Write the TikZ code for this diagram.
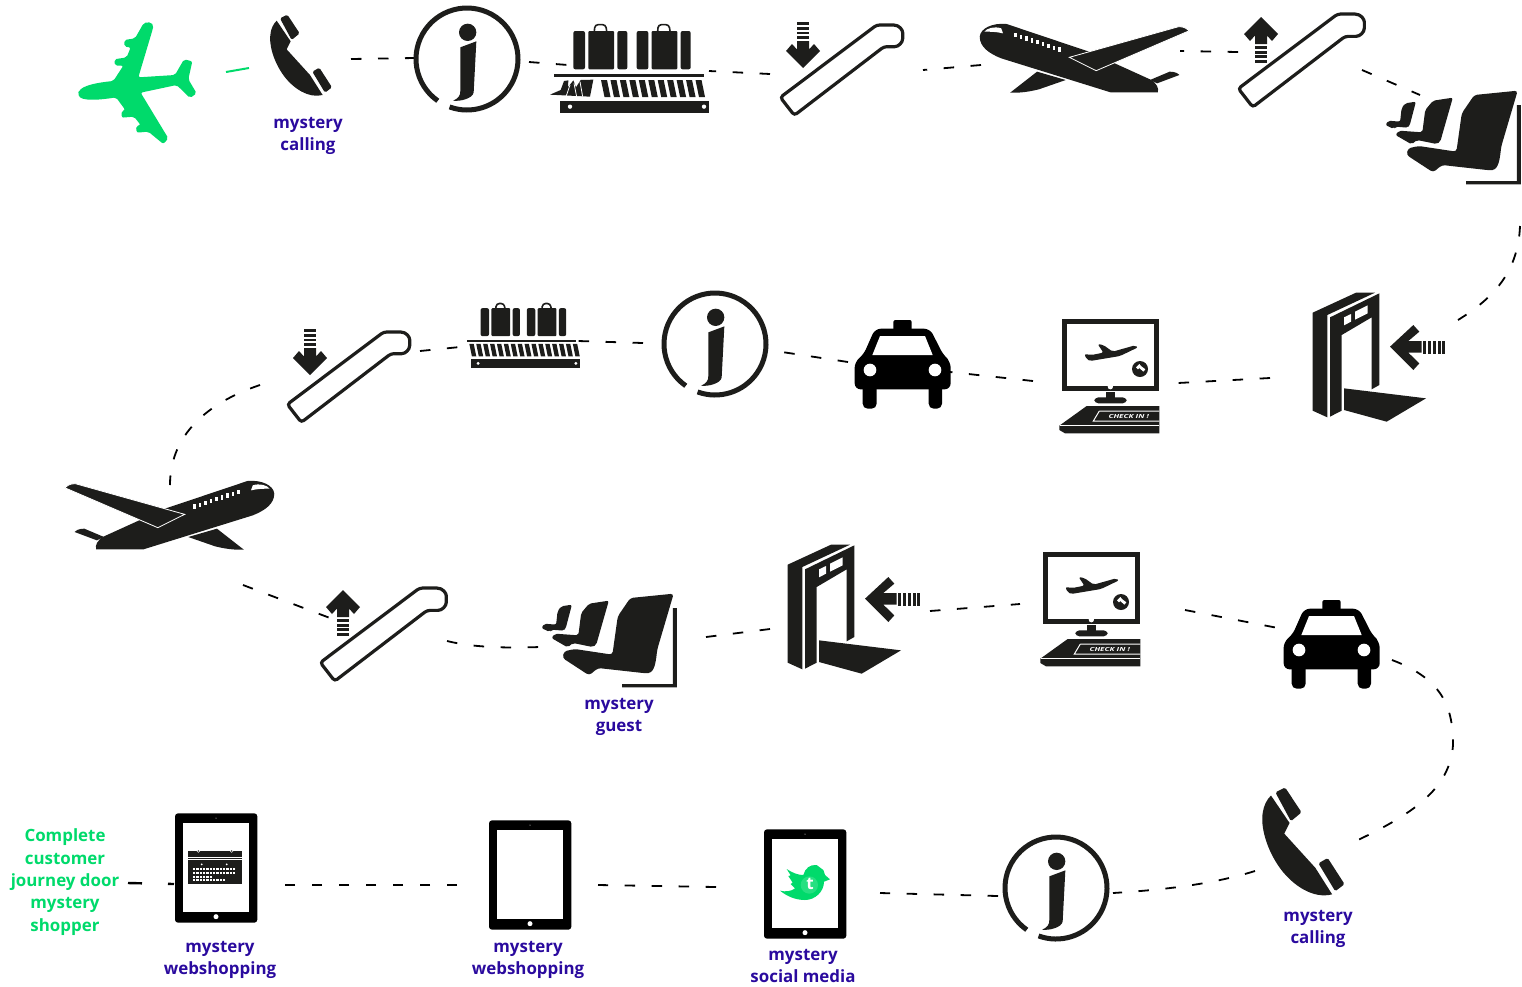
\documentclass[tikz,border=0pt]{standalone}
\usepackage{fontspec}
\usepackage{graphicx}
\setmainfont{Open Sans}
\definecolor{inkc}{HTML}{1D1D1B}
\definecolor{gr}{HTML}{00DA6B}
\definecolor{ind}{HTML}{2A0A9E}
\tikzset{
  ink/.style={fill=inkc,draw=none},
  wht/.style={fill=white,draw=none},
  dashline/.style={draw=black,line width=1.8pt,dash pattern=on 10.5pt off 16.5pt},
  lab/.style={font=\fontsize{16.9}{22.4}\selectfont\bfseries,text=ind,align=center,inner sep=0pt},
  glab/.style={lab,text=gr},
}
\newcommand\Place[4]{\begin{scope}[shift={(#1,#2)},scale=#3]#4\end{scope}}
% info icon, centred on the origin, in px
\newcommand\IcoInfo{%
  \draw[inkc,line width=5pt] (125:51) arc[start angle=125,end angle=470,radius=51];
  \begin{scope}[scale=1/3]
  \fill[ink] (2,-80) circle[radius=26];
  \fill[ink] (-20,-35) -- (28,-53) -- (20,100) .. controls (18,118) and (-20,128) .. (-42,125) .. controls (-25,118) and (-20,110) .. (-20,95) -- cycle;
  \end{scope}}
% phone
\newcommand\IcoPhone{\begin{scope}[shift={(60,0)},scale=1/3]
  \fill[ink,rounded corners=1.5pt] (660,55)--(682,44)--(719,100)--(695,120)--cycle;
  \fill[ink,rounded corners=1.5pt] (757,215)--(778,203)--(816,262)--(795,278)--cycle;
  \fill[ink] (650,62)--(692,124)--(680,148)--(750,225)--(788,285) .. controls (745,296) and (700,265) .. (672,228) .. controls (640,185) and (625,130) .. (632,98) .. controls (634,85) and (640,72) .. (650,62)--cycle;
\end{scope}}
% escalator tube
\newcommand\IcoEsc{\begin{scope}[shift={(540,0)},scale=1/3]
  \draw[inkc,line width=3.2pt,rounded corners=3pt,fill=white] (721,292)--(1010,75)--(1052,75) .. controls (1078,75) and (1088,90) .. (1088,107) .. controls (1088,128) and (1075,140) .. (1055,140)--(1032,140)--(763,346)--cycle;
\end{scope}}
\newcommand\IcoUp{%
  \fill[ink] (0,0)--(-17,17)--(-11,24)--(-6,18.5)--(-6,27)--(6,27)--(6,18.5)--(11,24)--(17,17)--cycle;
  \foreach \yy in {29,33.7,38.4,43}{\fill[ink] (-6,\yy) rectangle (6,\yy+2.8);}}
% side plane
\newcommand\IcoPlane{\begin{scope}[shift={(960,0)},xscale=0.3584,yscale=1/3]
  \fill[ink] (215,215)--(295,240)--(220,268) .. controls (190,276) and (165,279) .. (140,278)--cycle;
  \fill[ink] (530,240)--(585,215) .. controls (600,215) and (608,220) .. (612,225)--(550,250)--cycle;
  \fill[ink] (55,110) .. controls (57,85) and (90,68) .. (130,72)--(360,155)--(530,238) .. controls (550,250) and (555,265) .. (552,277)--(420,277)--(115,175) .. controls (80,160) and (55,140) .. (55,110)--cycle;
  \draw[white,line width=0.8pt,fill=inkc] (305,172)--(610,80) .. controls (625,80) and (632,85) .. (640,92)--(380,212)--cycle;
  \fill[wht] (68,95) .. controls (75,85) and (95,78) .. (115,85)--(120,100) .. controls (100,95) and (85,95) .. (68,95)--cycle;
  \foreach \i in {0,...,8}{\fill[wht] ({152+\i*15.2},{98+\i*5.5}) rectangle ++(7,13);}
\end{scope}}
% baggage
\newcommand\IcoCase[1]{%
  \fill[ink,rounded corners=2pt] (#1,93) rectangle ++(35,115);
  \fill[ink,rounded corners=1pt] (#1+45,93) rectangle ++(77,115);
  \fill[ink,rounded corners=2pt] (#1+132,93) rectangle ++(30,115);
  \draw[inkc,line width=1.6pt,rounded corners=3pt] (#1+63,93)--(#1+65,74)--(#1+97,74)--(#1+100,93);}
\newcommand\IcoBag{\begin{scope}[shift={(540,0)},scale=1/3]
  \IcoCase{100}\IcoCase{290}
  \fill[ink] (43,222) rectangle (492,231);
  \fill[ink] (60,303) rectangle (508,340);
  \fill[wht] (90,320) circle[radius=6.5]; \fill[wht] (492,320) circle[radius=6.5];
\end{scope}}
\newcommand\IcoSlat[2]{\foreach \i in {1,...,#2}{\fill[ink] ({#1+(\i-1)*9.45},80)--++(6,0)--++(3.5,17)--++(-6,0)--cycle;}}
% seats
\newcommand\IcoSeats{\begin{scope}[shift={(960,0)},xscale=0.3584,yscale=1/3]
  \fill[ink,rounded corners=3pt] (1435,285)--(1556,272)--(1510,440) .. controls (1505,490) and (1500,512) .. (1470,510)--(1345,495)--(1320,517)--(1246,465)--(1250,445)--(1280,438)--(1385,455)--(1400,340)--cycle;
  \fill[ink,rounded corners=2pt] (1320,302)--(1375,293)--(1340,425)--(1330,432)--(1275,420)--(1260,433)--(1215,405)--(1225,392)--(1290,397)--(1298,330)--cycle;
  \fill[ink,rounded corners=2pt] (1242,310)--(1272,305)--(1255,375)--(1250,383)--(1215,380)--(1210,387)--(1187,375)--(1195,362)--(1228,365)--(1232,325)--cycle;
  \fill[ink] (1554,315)--(1565,315)--(1565,553)--(1412,553)--(1412,543)--(1554,543)--cycle;
\end{scope}}
% door
\newcommand\IcoDoor{\begin{scope}[shift={(1040,280)},scale=1/3]
  \fill[ink] (818,98)--(948,38)--(1005,38)--(862,105)--(862,412)--(818,392)--cycle;
  \fill[ink] (870,112)--(1018,40)--(1018,315)--(995,328)--(995,112)--(905,165)--(905,392)--(870,410)--cycle;
  \fill[wht] (912,112)--(933,102)--(933,125)--(912,136)--cycle;
  \fill[wht] (945,95)--(983,76)--(983,100)--(945,119)--cycle;
  \fill[ink] (912,325)--(1158,355)--(1040,425)--(912,390)--cycle;
  \fill[ink] (1050,200)--(1120,135)--(1138,155)--(1105,183)--(1145,183)--(1145,218)--(1105,218)--(1138,250)--(1120,270)--cycle;
  \foreach \xx in {1150,1165,1180,1195,1207}{\fill[ink] (\xx,182) rectangle ++(9,40);}
\end{scope}}
% check-in screen
\newcommand\IcoScreen[1]{\begin{scope}[shift={(1040,280)},scale=1/3]
  \fill[ink] (65,118) rectangle (358,333);
  \fill[wht] (82,132) rectangle (343,318);
  \fill[wht] (211,320) circle[radius=8];
  \fill[ink] (197,335) rectangle (225,354);
  \fill[ink,rounded corners=4pt] (163,352) rectangle (260,370);
  \fill[ink,rounded corners=2pt] (133,222)--(155,225)--(190,218)--(173,192)--(190,195)--(218,215)--(285,196)--(294,202)--(240,228)--(150,243)--(140,238)--cycle;
  \fill[ink] (300,267) circle[radius=24];
  \fill[wht] (288,262)--(298,252)--(303,258)--(316,268)--(310,275)--(298,264)--(294,268)--cycle;
  \fill[ink] (140,378)--(358,378)--(358,460)--(75,460)--(58,450)--(58,437)--cycle;
  \draw[white,line width=1pt] (178,393)--(358,393) (358,423)--(160,423)--(178,393);
  \draw[white,line width=0.8pt] (60,437)--(358,437);
  \node[name=#1,inner sep=0pt,text=white,font=\fontsize{5.6}{6}\selectfont\bfseries\itshape] at (266,408) {\scalebox{1.45}[1]{CHECK IN !}};
\end{scope}}
% taxi
\newcommand\IcoTaxi{\begin{scope}[shift={(840,310)},scale=1/3]
  \fill[black,rounded corners=2pt] (160,30) rectangle (215,62);
  \fill[black,rounded corners=5pt] (68,220) rectangle (110,296);
  \fill[black,rounded corners=5pt] (266,220) rectangle (306,296);
  \fill[black,rounded corners=6pt] (105,56)--(270,56)--(310,135)--(332,155)--(332,238)--(44,238)--(44,155)--(70,135)--cycle;
  \fill[wht] (120,78)--(255,78)--(278,135)--(97,135)--cycle;
  \fill[wht] (90,180) circle[radius=19]; \fill[wht] (285,180) circle[radius=19];
\end{scope}}
% tablet
\newcommand\IcoTablet{\begin{scope}[shift={(160,800)},scale=1/3]
  \fill[black,rounded corners=3pt] (45,40) rectangle (292,368);
  \fill[wht] (70,68) rectangle (267,337);
  \fill[wht] (168,54) circle[radius=1.5];
  \fill[wht] (168,350) circle[radius=7.5];
\end{scope}}
\begin{document}
\begin{tikzpicture}[x=1pt,y=-1pt]
\useasboundingbox (0,0) rectangle (1522,986);
% connector ends
\coordinate (g1) at (226,72); \coordinate (g2) at (249,68);
\coordinate (a1) at (351,59); \coordinate (a2) at (415,58);
\coordinate (b1) at (529,62); \coordinate (b2) at (568,65);
\coordinate (c1) at (709,71); \coordinate (c2) at (770,74);
\coordinate (d1) at (923,70); \coordinate (d2) at (981,65);
\coordinate (e1) at (1180,51); \coordinate (e2) at (1238,52);
\coordinate (f1) at (1362,70); \coordinate (f2) at (1420,95);
\coordinate (h1) at (1520,226); \coordinate (h2) at (1458,320);
\coordinate (i1) at (1270,378); \coordinate (i2) at (1178,383);
\coordinate (j1) at (1033,381); \coordinate (j2) at (950,372);
\coordinate (k1) at (848,362); \coordinate (k2) at (782,352);
\coordinate (l1) at (643,343); \coordinate (l2) at (578,341);
\coordinate (m1) at (470,346); \coordinate (m2) at (420,351);
\coordinate (n1) at (260,385); \coordinate (n2) at (170,485);
\coordinate (o1) at (243,585); \coordinate (o2) at (330,618);
\coordinate (p1) at (447,641); \coordinate (p2) at (540,647);
\coordinate (q1) at (706,637); \coordinate (q2) at (770,629);
\coordinate (r1) at (930,611); \coordinate (r2) at (1020,604);
\coordinate (s1) at (1185,610); \coordinate (s2) at (1278,628);
\coordinate (t1) at (1392,660); \coordinate (t2) at (1358,840);
\coordinate (u1) at (1255,871); \coordinate (u2) at (1113,893);
\coordinate (v1) at (998,896); \coordinate (v2) at (880,893);
\coordinate (w1) at (716,887); \coordinate (w2) at (598,885);
\coordinate (y1) at (457,885); \coordinate (y2) at (285,885);
\coordinate (z1) at (128,883); \coordinate (z2) at (174,884);
\draw[gr,line width=2pt] (g1)--(g2);
\foreach \aa/\bb in {a1/a2,b1/b2,c2/c1,d2/d1,e2/e1,f1/f2,i1/i2,j1/j2,k1/k2,l1/l2,m2/m1,o1/o2,q1/q2,r1/r2,s1/s2,v1/v2,w1/w2,y1/y2}
  {\draw[dashline] (\aa)--(\bb);}
\draw[dashline] (h1) .. controls (1518,275) and (1490,300) .. (h2);
\draw[dashline] (n1) .. controls (215,400) and (170,430) .. (n2);
\draw[dashline] (p1) .. controls (475,648) and (510,648) .. (p2);
\draw[dashline] (t1) .. controls (1445,680) and (1453,710) .. (1453,745) .. controls (1450,790) and (1410,815) .. (t2);
\draw[dashline] (u1) .. controls (1210,885) and (1160,890) .. (u2);
\draw[black,line width=2.4pt,dash pattern=on 14pt off 26pt] (z1)--(z2);

% green plane
\begin{scope}[shift={(60,0)},scale=1/3]
\fill[gr,rounded corners=2pt] (55,280) .. controls (65,255) and (120,247) .. (160,243) -- (190,197) -- (165,197)--(163,178)--(200,172)--(212,142)--(193,140)--(193,120)--(225,115)--(245,80) .. controls (255,62) and (283,65) .. (278,88) -- (235,232) -- (345,225)--(372,178)--(397,184)--(385,238)--(410,280)--(390,294)--(350,255)--(242,278)--(325,415)--(310,432)--(265,395)--(230,398)--(228,378)--(242,375)--(222,350)--(185,353)--(185,332)--(196,330)--(168,292) .. controls (120,300) and (60,305) .. (55,280)--cycle;
\end{scope}

% row 1
\IcoPhone
\node[lab] (lab1) at (308,136) {mystery\\calling};
\Place{467}{59}{1}{\IcoInfo}
\IcoBag
\begin{scope}[shift={(540,0)},scale=1/3]
  \fill[ink] (30,284)--(62,270)--(72,243)--(85,241)--(84,262)--(100,241)--(108,262)--(122,240)--(160,239)--(150,290)--cycle;
  \draw[white,line width=0.8pt] (110,290)--(102,250) (128,290)--(120,245) (78,290)--(90,255);
\end{scope}
\IcoSlat{601}{11}
\IcoEsc
\Place{803}{68}{1}{\begin{scope}[yscale=-1]\IcoUp\end{scope}}
\IcoPlane
\Place{434.6}{-11.7}{1.03}{\IcoEsc}
\Place{1261}{17}{1}{\IcoUp}
\IcoSeats

% row 2
\IcoDoor
\IcoScreen{scr1}
\IcoTaxi
\Place{715}{344}{1}{\IcoInfo}
\Place{62}{285.5}{0.73}{\IcoBag\IcoSlat{558}{16}}
\Place{-493}{307}{1}{\IcoEsc}
\Place{310}{375}{1}{\begin{scope}[yscale=-1]\IcoUp\end{scope}}

% row 3
\begin{scope}[shift={(1254,457)},xscale=-1]\IcoPlane\end{scope}
\Place{-483.4}{562.3}{1.03}{\IcoEsc}
\Place{343}{590}{1}{\IcoUp}
\Place{-844}{503}{1}{\IcoSeats}
\node[lab] (lab2) at (619,717) {mystery\\guest};
\Place{-525}{252}{1}{\IcoDoor}
\Place{-19}{233}{1}{\IcoScreen{scr2}}
\Place{429}{280}{1}{\IcoTaxi}

% row 4
\Place{903}{768}{1.33}{\IcoPhone}
\node[lab] (lab3) at (1318,929) {mystery\\calling};
\Place{1056}{888}{1}{\IcoInfo}
% tablets
\IcoTablet
\begin{scope}[shift={(160,800)},scale=1/3]
  \fill[ink] (85,152) rectangle (245,252);
  \fill[wht] (85,170) rectangle (245,172.5);
  \fill[wht] (85,178) rectangle (245,180.5);
  \fill[wht] (115,153) circle[radius=5]; \fill[wht] (215,153) circle[radius=5];
  \fill[ink] (115,153) circle[radius=2.5]; \fill[ink] (215,153) circle[radius=2.5];
  \fill[wht] (125,193) circle[radius=3]; \fill[wht] (200,193) circle[radius=3];
  \foreach \i in {0,...,12}{\fill[wht] ({99+\i*10},204) rectangle ++(7,6);\fill[wht] ({99+\i*10},215) rectangle ++(7,6);}
  \foreach \i in {0,...,5}{\fill[wht] ({99+\i*10},227) rectangle ++(7,6);}
  \foreach \i in {0,...,9}{\fill[wht] ({99+\i*10},238) rectangle ++(7,6);}
\end{scope}
\Place{314}{7}{1}{\IcoTablet}
\Place{589}{16}{1}{\IcoTablet}
\begin{scope}[shift={(750,820)},scale=1/3]
  \fill[gr] (240,178)--(222,185) .. controls (222,215) and (195,240) .. (165,240) .. controls (135,240) and (110,228) .. (90,212) .. controls (105,216) and (125,214) .. (135,205)--(122,192)--(128,188)--(115,168)--(122,166)--(110,147) .. controls (130,160) and (145,165) .. (160,165) .. controls (165,145) and (180,133) .. (200,135)--(220,150)--(225,165)--cycle;
  \fill[gr!85!white] (178,195) circle[radius=26];
  \node[name=bird,inner sep=0pt,text=white,font=\fontsize{17}{17}\selectfont\bfseries] at (180,192) {t};
\end{scope}
\node[lab] (lab4) at (220,960) {mystery\\webshopping};
\node[lab] (lab5) at (528,960) {mystery\\webshopping};
\node[lab] (lab6) at (803,966) {mystery\\social media};
\node[glab] (lab7) at (65,882) {Complete\\customer\\journey door\\mystery\\shopper};
\end{tikzpicture}
\end{document}
